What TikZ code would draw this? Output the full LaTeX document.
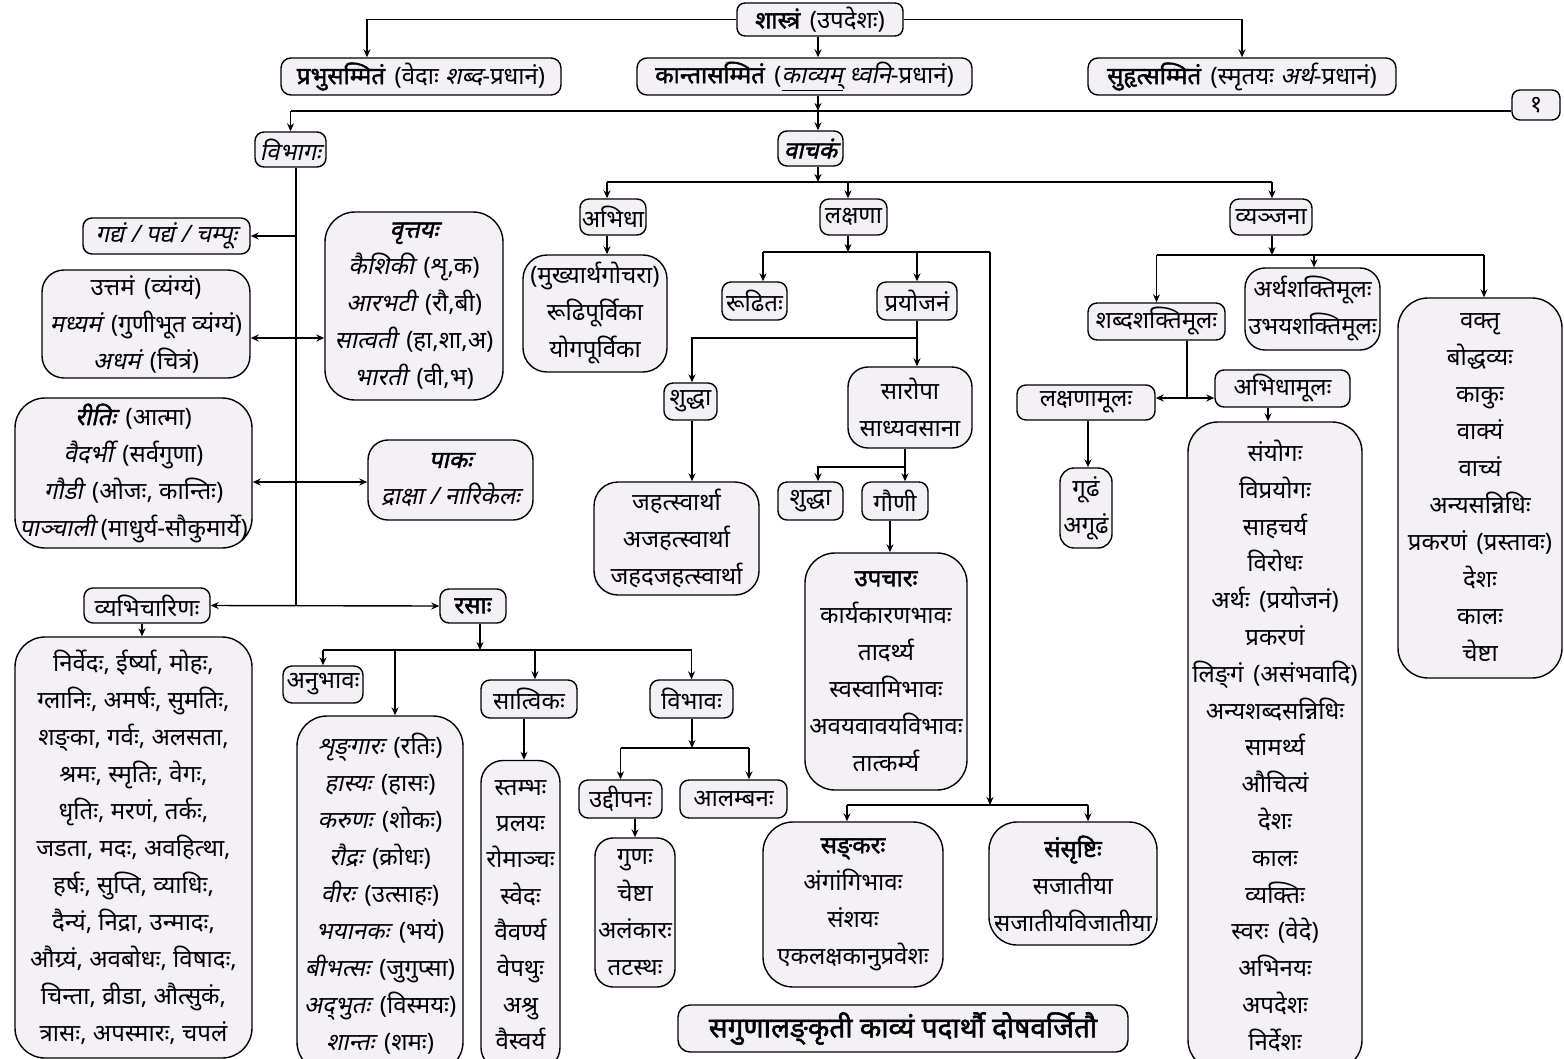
\documentclass[tikz,border=0pt]{standalone}
\usepackage{fontspec}
\usetikzlibrary{arrows.meta}
\newfontfamily\dev[Script=Devanagari]{Noto Sans}
\newfontfamily\devit[Script=Devanagari,FakeSlant=0.22]{Noto Sans}
\newfontfamily\devbf[Script=Devanagari,FakeBold=1.8]{Noto Sans}
\newfontfamily\devbi[Script=Devanagari,FakeBold=1.8,FakeSlant=0.22]{Noto Sans}
\newcommand{\dI}[1]{{\devit #1}}
\newcommand{\dB}[1]{{\devbf #1}}
\newcommand{\dBI}[1]{{\devbi #1}}
\newcommand{\gp}{\hspace{0.4em}}
\newcommand{\zn}{^^^^200c}
\definecolor{boxfill}{RGB}{243,241,246}
\begin{document}
\begin{tikzpicture}[x=1pt,y=-1pt,
  bx/.style={draw, line width=1.4pt, fill=boxfill, rounded corners=#1, inner sep=0pt, align=center, font=\dev\fontsize{24}{37}\selectfont},
  bx/.default=9pt,
  wh/.style 2 args={minimum width=#1pt, minimum height=#2pt},
  arr/.style={-{Stealth[length=8pt,width=7pt]}, line width=1.4pt},
  arr2/.style={{Stealth[length=8pt,width=7pt]}-{Stealth[length=8pt,width=7pt]}, line width=1.4pt},
  ln/.style={line width=1.4pt}]
\fill[white] (0,0) rectangle (1564,1058);
\useasboundingbox (0,0) rectangle (1564,1058);

% top row
\node[bx=8pt, wh={166}{33}] (shastra) at (820,19.5) {\dB{शास्त्रं}\gp(उपदेशः)};
\node[bx=10pt, wh={280}{37}] (prabhu) at (421,76.5) {\dB{प्रभुसम्मितं}\gp(वेदाः \dI{शब्द}-प्रधानं)};
\node[bx=10pt, wh={335}{37}] (kanta) at (804.5,76.5) {\dB{कान्तासम्मितं}\gp(\underline{\dI{काव्यम्}} \dI{ध्वनि}-प्रधानं)};
\node[bx=10pt, wh={308}{37}] (suhrit) at (1242,76.5) {\dB{सुहृत्सम्मितं}\gp(स्मृतयः \dI{अर्थ}-प्रधानं)};
\node[bx=8pt, wh={48}{30}] (one) at (1536,105) {१};
\node[bx=9pt, wh={71}{35}] (vibhaga) at (290.5,149.5) {\dI{विभागः}};
\node[bx=9pt, wh={65}{35}] (vachaka) at (810.5,148.5) {\dBI{वाचकं}};

% left column
\node[bx=9pt, wh={167}{36}] (gadya) at (166.5,236) {\dI{गद्यं / पद्यं / चम्पूः}};
\node[bx=22pt, wh={208}{108}] (uttama) at (146,324) {उत्तमं\gp(व्यंग्यं)\\ \dI{मध्यमं}\gp(गुणीभूत व्यंग्यं)\\ \dI{अधमं}\gp(चित्रं)};
\node[bx=30pt, wh={178}{188}] (vritti) at (414,306) {\dBI{वृत्तयः}\\ \dI{कैशिकी}\gp(शृ,क)\\ \dI{आरभटी}\gp(रौ,बी)\\ \dI{सात्वती}\gp(हा,शा,अ)\\ \dI{भारती}\gp(वी,भ)};
\node[bx=30pt, wh={237}{150}] (riti) at (133.5,473) {\dBI{रीतिः}\gp(आत्मा)\\ \dI{वैदर्भी}\gp(सर्वगुणा)\\ \dI{गौडी}\gp(ओजः, कान्तिः)\\ \dI{पाञ्चाली} (माधुर्य-सौकुमार्ये)};
\node[bx=20pt, wh={165}{80}] (paka) at (450.5,480) {\dBI{पाकः}\\ \dI{द्राक्षा / नारिकेलः}};
\node[bx=9pt, wh={126}{35}] (vyabhi) at (147,605.5) {व्यभिचारिणः};
\node[bx=9pt, wh={66}{34}] (rasa) at (473,606) {\dB{रसाः}};
\node[bx=30pt, wh={237}{421}] (vlist) at (133.5,847.5) {निर्वेदः, ईर्ष्या, मोहः,\\ ग्लानिः, अमर्षः, सुमतिः,\\ शङ्\zn{}का, गर्वः, अलसता,\\ श्रमः, स्मृतिः, वेगः,\\ धृतिः, मरणं, तर्कः,\\ जडता, मदः, अवहित्था,\\ हर्षः, सुप्ति, व्याधिः,\\ दैन्यं, निद्रा, उन्मादः,\\ औग्र्यं, अवबोधः, विषादः,\\ चिन्ता, व्रीडा, औत्सुकं,\\ त्रासः, अपस्मारः, चपलं};
\node[bx=9pt, wh={80}{37}] (anubhava) at (323,684.5) {अनुभावः};
\node[bx=30pt, wh={166}{356}] (rlist) at (380,894) {\dI{शृङ्\zn{}गारः}\gp(रतिः)\\ \dI{हास्यः}\gp(हासः)\\ \dI{करुणः}\gp(शोकः)\\ \dI{रौद्रः}\gp(क्रोधः)\\ \dI{वीरः}\gp(उत्साहः)\\ \dI{भयानकः}\gp(भयं)\\ \dI{बीभत्सः}\gp(जुगुप्सा)\\ \dI{अद्\zn{}भुतः}\gp(विस्मयः)\\ \dI{शान्तः}\gp(शमः)};
\node[bx=9pt, wh={96}{38}] (sattvika) at (529,699) {सात्विकः};
\node[bx=9pt, wh={83}{38}] (vibhava) at (691.5,699) {विभावः};
\node[bx=22pt, wh={79}{309}, font=\dev\fontsize{24}{36.3}\selectfont] (slist) at (520.5,915) {स्तम्भः\\ प्रलयः\\ रोमाञ्चः\\ स्वेदः\\ वैवर्ण्य\\ वेपथुः\\ अश्रु\\ वैस्वर्य};
\node[bx=9pt, wh={83}{38}] (uddipana) at (620.5,799) {उद्दीपनः};
\node[bx=9pt, wh={107}{38}] (alambana) at (733.5,799) {आलम्बनः};
\node[bx=18pt, wh={80}{149}] (ulist) at (635,912.5) {गुणः\\ चेष्टा\\ अलंकारः\\ तटस्थः};
\node[bx=12pt, wh={450}{47}, font=\devbf\fontsize{28}{34}\selectfont] (motto) at (903,1028.5) {सगुणालङ्\zn{}कृती काव्यं पदार्थौ दोषवर्जितौ};

% middle
\node[bx=9pt, wh={66}{36}] (abhidha) at (613,217) {अभिधा};
\node[bx=9pt, wh={67}{36}] (lakshana) at (853.5,217) {लक्षणा};
\node[bx=9pt, wh={82}{36}] (vyanjana) at (1271,217) {व्यञ्जना};
\node[bx=24pt, wh={144}{117}] (alist) at (595,313.5) {(मुख्यार्थगोचरा)\\ रूढिपूर्विका\\ योगपूर्विका};
\node[bx=9pt, wh={65}{38}] (rudhi) at (754.5,301) {रूढितः};
\node[bx=9pt, wh={80}{38}] (prayojana) at (917,301) {प्रयोजनं};
\node[bx=9pt, wh={53}{37}] (shuddhaA) at (690.5,401.5) {शुद्धा};
\node[bx=20pt, wh={124}{81}] (saropa) at (910,407.5) {सारोपा\\ साध्यवसाना};
\node[bx=24pt, wh={165}{113}] (jlist) at (676.5,538.5) {जहत्स्वार्था\\ अजहत्स्वार्था\\ जहदजहत्स्वार्था};
\node[bx=9pt, wh={65}{38}] (shuddhaB) at (810.5,501) {शुद्धा};
\node[bx=9pt, wh={66}{38}] (gauni) at (895,501) {गौणी};
\node[bx=30pt, wh={162}{237}] (upachara) at (886,671.5) {\dB{उपचारः}\\ कार्यकारणभावः\\ तादर्थ्य\\ स्वस्वामिभावः\\ अवयवावयविभावः\\ तात्कर्म्य};
\node[bx=30pt, wh={180}{165}] (sankara) at (853,904.5) {\dB{सङ्\zn{}करः}\\ अंगांगिभावः\\ संशयः\\ एकलक्षकानुप्रवेशः};
\node[bx=28pt, wh={168}{123}] (samsrishti) at (1073,883.5) {\dB{संसृष्टिः}\\ सजातीया\\ सजातीयविजातीया};

% right
\node[bx=9pt, wh={137}{37}] (shabda) at (1156.5,321.5) {शब्दशक्तिमूलः};
\node[bx=20pt, wh={135}{82}] (artha) at (1312.5,309) {अर्थशक्तिमूलः\\ उभयशक्तिमूलः};
\node[bx=30pt, wh={164}{380}] (vaktri) at (1480,488) {वक्तृ\\ बोद्धव्यः\\ काकुः\\ वाक्यं\\ वाच्यं\\ अन्यसन्निधिः\\ प्रकरणं\gp(प्रस्तावः)\\ देशः\\ कालः\\ चेष्टा};
\node[bx=9pt, wh={138}{35}] (lmula) at (1086,402.5) {लक्षणामूलः};
\node[bx=9pt, wh={135}{37}] (amula) at (1282.5,388.5) {अभिधामूलः};
\node[bx=14pt, wh={52}{80}] (gudha) at (1086,508) {गूढं\\ अगूढं};
\node[bx=30pt, wh={174}{648}, font=\dev\fontsize{24}{36.8}\selectfont] (splist) at (1275,746) {संयोगः\\ विप्रयोगः\\ साहचर्य\\ विरोधः\\ अर्थः\gp(प्रयोजनं)\\ प्रकरणं\\ लिङ्\zn{}गं\gp(असंभवादि)\\ अन्यशब्दसन्निधिः\\ सामर्थ्य\\ औचित्यं\\ देशः\\ कालः\\ व्यक्तिः\\ स्वरः\gp(वेदे)\\ अभिनयः\\ अपदेशः\\ निर्देशः};

% junction coordinates
\coordinate (hl) at (818,111);
\coordinate (vb) at (296,606);
\coordinate (rj) at (480,650);
\coordinate (vj) at (692,748);
\coordinate (vcj) at (818,182);
\coordinate (lj) at (848,252);
\coordinate (sj) at (990,805);
\coordinate (pj) at (917,338);
\coordinate (sj2) at (905,467);
\coordinate (yj) at (1272,255);
\coordinate (shj) at (1187,398);

% connectors: top
\draw[arr] (shastra.west) -| (prabhu.north -| 367,0);
\draw[arr] (shastra.east) -| (suhrit.north);
\draw[arr] (shastra.south -| hl) -- (kanta.north -| hl);
\draw[arr] (kanta.south -| hl) -- (hl);
\draw[ln] (vibhaga.north |- hl) -- (one.west |- hl);
\draw[arr] (vibhaga.north |- hl) -- (vibhaga.north);
\draw[arr] (hl) -- (vachaka.north -| hl);

% left trunk
\draw[ln] (vibhaga.south -| vb) -- (vb);
\draw[arr] (vb |- gadya.east) -- (gadya.east);
\draw[arr2] (uttama.east |- 0,338) -- (vritti.west |- 0,338);
\draw[arr2] (riti.east |- 0,482) -- (paka.west |- 0,482);
\draw[arr2] (vyabhi.east) -- (rasa.west);
\draw[arr] (vyabhi.south -| 142,0) -- (vlist.north -| 142,0);

% rasa branch
\draw[arr] (rasa.south -| rj) -- (rj);
\draw[ln] (anubhava.north |- rj) -- (rj -| vibhava.north);
\draw[arr] (anubhava.north |- rj) -- (anubhava.north);
\draw[arr] (rj -| 395,0) -- (rlist.north -| 395,0);
\draw[arr] (rj -| 535,0) -- (sattvika.north -| 535,0);
\draw[arr] (rj -| vibhava.north) -- (vibhava.north);
\draw[arr] (sattvika.south -| 524,0) -- (slist.north -| 524,0);
\draw[arr] (vibhava.south -| vj) -- (vj);
\draw[ln] (uddipana.north |- vj) -- (vj -| 749,0);
\draw[arr] (uddipana.north |- vj) -- (uddipana.north);
\draw[arr] (vj -| 749,0) -- (alambana.north -| 749,0);
\draw[arr] (uddipana.south -| ulist.north) -- (ulist.north);

% vachaka branch
\draw[arr] (vachaka.south -| vcj) -- (vcj);
\draw[ln] (vcj -| 607,0) -- (vcj -| yj);
\draw[arr] (vcj -| 607,0) -- (abhidha.north -| 607,0);
\draw[arr] (vcj -| lj) -- (lakshana.north -| lj);
\draw[arr] (vcj -| yj) -- (vyanjana.north -| yj);
\draw[arr] (abhidha.south -| 607,0) -- (alist.north -| 607,0);

% lakshana branch
\draw[arr] (lakshana.south -| lj) -- (lj);
\draw[ln] (lj -| 763,0) -- (lj -| sj);
\draw[arr] (lj -| sj) -- (sj);
\draw[arr] (lj -| 763,0) -- (rudhi.north -| 763,0);
\draw[arr] (lj -| prayojana.north) -- (prayojana.north);
\draw[arr] (prayojana.south) -- (saropa.north -| prayojana.south);
\draw[arr] (pj) -| (shuddhaA.north -| 692,0);
\draw[arr] (shuddhaA.south -| 692,0) -- (jlist.north -| 692,0);
\draw[arr] (saropa.south -| sj2) -- (gauni.north -| sj2);
\draw[arr] (sj2) -| (shuddhaB.north -| 818,0);
\draw[arr] (gauni.south -| 890,0) -- (upachara.north -| 890,0);
\draw[ln] (sj -| 847,0) -- (sj -| 1088,0);
\draw[arr] (sj -| 847,0) -- (sankara.north -| 847,0);
\draw[arr] (sj -| 1088,0) -- (samsrishti.north -| 1088,0);

% vyanjana branch
\draw[arr] (vyanjana.south -| yj) -- (yj);
\draw[ln] (yj -| shabda.north) -- (yj -| 1484,0);
\draw[arr] (yj -| shabda.north) -- (shabda.north);
\draw[arr] (yj -| 1314,0) -- (artha.north -| 1314,0);
\draw[arr] (yj -| 1484,0) -- (vaktri.north -| 1484,0);
\draw[ln] (shabda.south -| shj) -- (shj);
\draw[arr2] (lmula.east |- shj) -- (amula.west |- shj);
\draw[arr] (lmula.south -| 1088,0) -- (gudha.north -| 1088,0);
\draw[arr] (amula.south -| 1268,0) -- (splist.north -| 1268,0);
\end{tikzpicture}
\end{document}
